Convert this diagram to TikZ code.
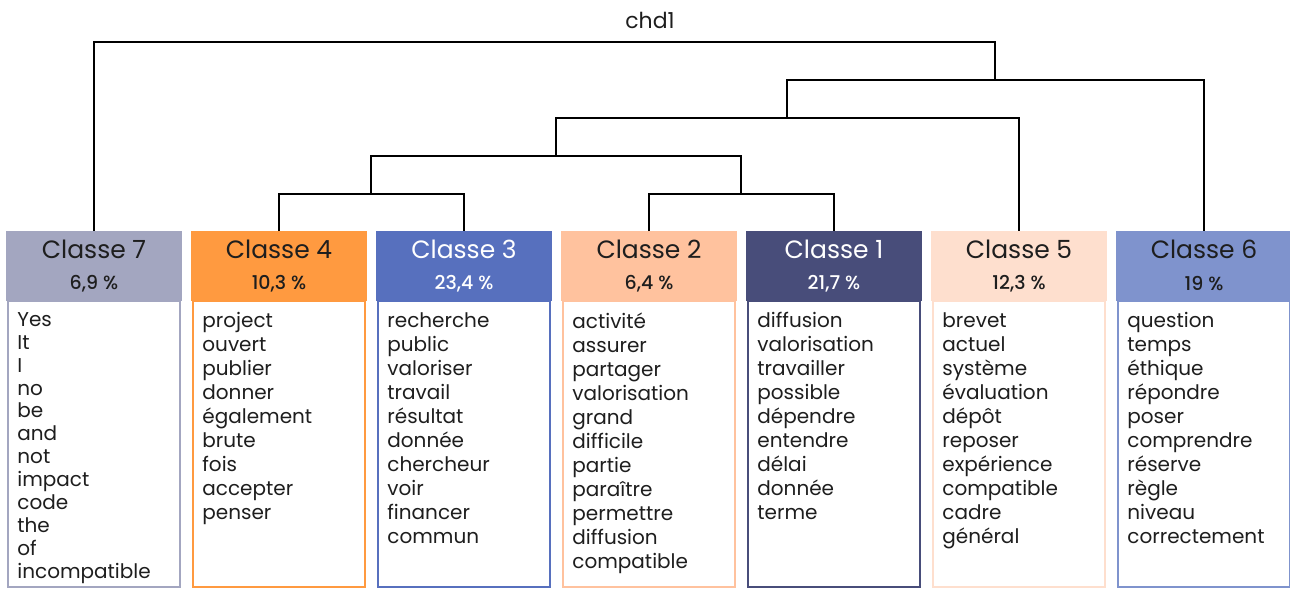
\documentclass[tikz,border=0pt]{standalone}
\usepackage{fontspec}
\setmainfont{Poppins}[BoldFont={Poppins Medium}]
\definecolor{c7}{HTML}{A3A6C0}
\definecolor{c4}{HTML}{FF9A40}
\definecolor{c3}{HTML}{5770BE}
\definecolor{c2}{HTML}{FFC29E}
\definecolor{c1}{HTML}{484D7A}
\definecolor{c5}{HTML}{FEDFCE}
\definecolor{c6}{HTML}{7F93CD}
\definecolor{ink}{HTML}{1E1E1E}
\tikzset{
  head/.style={fill=#1, draw=none, minimum width=88pt, minimum height=35pt, anchor=north, inner sep=0pt},
  bodybox/.style={draw=#1, line width=1.2pt, fill=white, minimum width=86pt, minimum height=143pt, anchor=north, inner sep=0pt},
  title/.style={font=\fontsize{12.5}{14}\selectfont, text=#1},
  pct/.style={font=\fontsize{9.5}{11}\selectfont\bfseries, text=#1},
  words/.style={font=\fontsize{10}{#1}\selectfont, text=ink, align=left, anchor=north west, inner sep=0pt},
  dendro/.style={line width=1.25pt, black},
}
\begin{document}
\begin{tikzpicture}[x=0.5pt,y=-0.5pt]
\useasboundingbox (0,0) rectangle (1290,590);
% columns
\foreach \n/\cx/\col/\tc/\pc/\ls/\ws in {
 7/94/c7/ink/6{,}9 \%/11.45/{Yes\\It\\I\\no\\be\\and\\not\\impact\\code\\the\\of\\incompatible},
 4/279/c4/ink/10{,}3 \%/12/{project\\ouvert\\publier\\donner\\également\\brute\\fois\\accepter\\penser},
 3/464/c3/white/23{,}4 \%/12/{recherche\\public\\valoriser\\travail\\résultat\\donnée\\chercheur\\voir\\financer\\commun},
 2/649/c2/ink/6{,}4 \%/12/{activité\\assurer\\partager\\valorisation\\grand\\difficile\\partie\\paraître\\permettre\\diffusion\\compatible},
 1/834/c1/white/21{,}7 \%/12/{diffusion\\valorisation\\travailler\\possible\\dépendre\\entendre\\délai\\donnée\\terme},
 5/1019/c5/ink/12{,}3 \%/12/{brevet\\actuel\\système\\évaluation\\dépôt\\reposer\\expérience\\compatible\\cadre\\général},
 6/1204/c6/ink/19 \%/12/{question\\temps\\éthique\\répondre\\poser\\comprendre\\réserve\\règle\\niveau\\correctement}}
{
  \node[bodybox=\col] (b\n) at (\cx,300) {};
  \node[head=\col] (h\n) at (\cx,231) {};
  \node[title=\tc] (t\n) at (\cx,249) {Classe \n};
  \node[pct=\tc] (p\n) at (\cx,284) {\pc};
  \node[words=\ls] (w\n) at ({\cx-77},312) {\ws};
}
% dendrogram
\coordinate (j43) at (371,194);
\coordinate (j21) at (741,194);
\coordinate (jA) at (556,156);
\coordinate (jB) at (787,118);
\coordinate (jC) at (995,80);
\coordinate (jTop) at (995,42);
\draw[dendro] (h4.north) |- (j43) -| (h3.north);
\draw[dendro] (h2.north) |- (j21) -| (h1.north);
\draw[dendro] (j43) |- (jA) -| (j21);
\draw[dendro] (jA) |- (jB) -| (h5.north);
\draw[dendro] (jB) |- (jC) -| (h6.north);
\draw[dendro] (h7.north) |- (jTop) -- (jC);
\node[font=\fontsize{11}{13}\selectfont, text=ink] (chd) at (650,20) {chd1};
\end{tikzpicture}
\end{document}
